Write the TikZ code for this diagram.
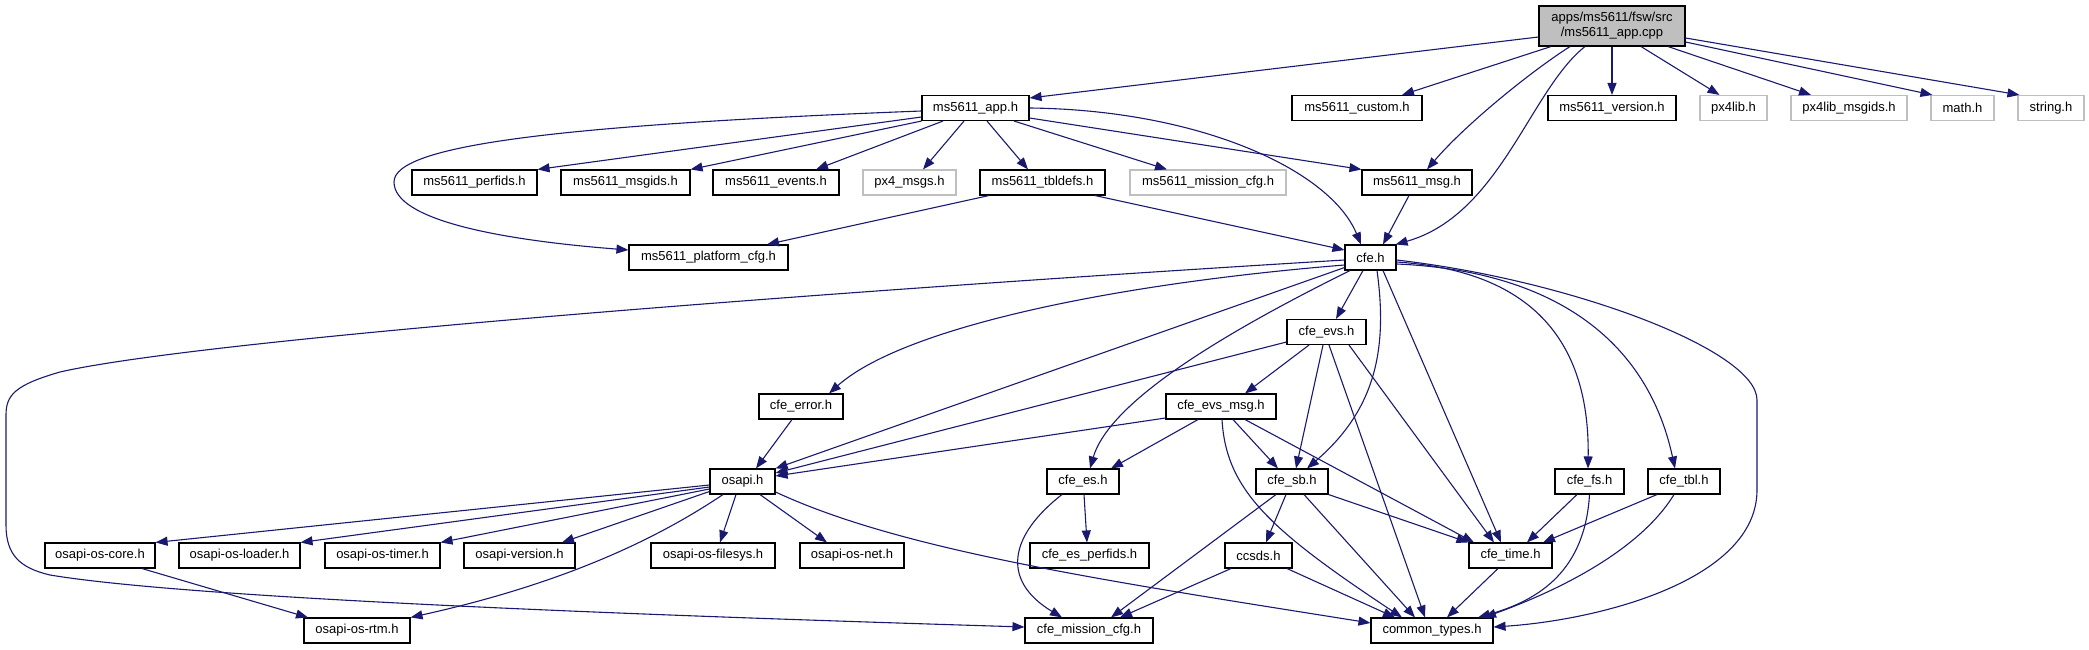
\documentclass[tikz,border=0pt]{standalone}
\usepackage{fontspec}
\setmainfont{Liberation Sans}
\usetikzlibrary{arrows.meta,calc}
\definecolor{edgec}{RGB}{25,25,112}
\definecolor{gbord}{RGB}{191,191,191}
\definecolor{gfill}{RGB}{191,191,191}
\begin{document}
\begin{tikzpicture}[x=1pt,y=1pt,
  box/.style={draw=black,fill=white,line width=1.1pt,minimum height=25pt,inner sep=0pt,font=\fontsize{13}{15}\selectfont},
  gbox/.style={box,draw=gbord},
  w/.style={minimum width=#1pt},
  edge/.style={draw=edgec,line width=1.1pt,-{Triangle[length=12pt,width=9pt]}}]
\useasboundingbox (0,0) rectangle (2089,649);
% rank 0
\node[box,fill=gfill,w=146,minimum height=40pt,align=center] (cpp) at (1612,623) {apps/ms5611/fsw/src\\/ms5611\_app.cpp};
% rank 1
\node[box,w=107] (app) at (975.5,541) {ms5611\_app.h};
\node[box,w=130] (custom) at (1357,541) {ms5611\_custom.h};
\node[box,w=128] (version) at (1612,541) {ms5611\_version.h};
\node[gbox,w=67] (px4lib) at (1733.5,541) {px4lib.h};
\node[gbox,w=116] (pxmsgids) at (1849,541) {px4lib\_msgids.h};
\node[gbox,w=63] (math) at (1962.5,541) {math.h};
\node[gbox,w=66] (string) at (2051,541) {string.h};
% rank 2
\node[box,w=125] (perfids) at (474.5,466.5) {ms5611\_perfids.h};
\node[box,w=129] (msgids) at (625.5,466.5) {ms5611\_msgids.h};
\node[box,w=126] (events) at (776,466.5) {ms5611\_events.h};
\node[gbox,w=93] (px4msgs) at (909.5,466.5) {px4\_msgs.h};
\node[box,w=125] (tbldefs) at (1042.5,466.5) {ms5611\_tbldefs.h};
\node[gbox,w=156] (mmission) at (1208,466.5) {ms5611\_mission\_cfg.h};
\node[box,w=110] (msg) at (1417,466.5) {ms5611\_msg.h};
% rank 3
\node[box,w=159] (platform) at (708.5,391.5) {ms5611\_platform\_cfg.h};
\node[box,w=51] (cfe) at (1370.5,391.5) {cfe.h};
% rank 4
\node[box,w=79] (evs) at (1326.5,317) {cfe\_evs.h};
% rank 5
\node[box,w=84] (error) at (801,242.5) {cfe\_error.h};
\node[box,w=110] (evsmsg) at (1221,242.5) {cfe\_evs\_msg.h};
% rank 6
\node[box,w=65] (osapi) at (742.5,167.5) {osapi.h};
\node[box,w=72] (es) at (1083,167.5) {cfe\_es.h};
\node[box,w=72] (sb) at (1292,167.5) {cfe\_sb.h};
\node[box,w=69] (fs) at (1589.5,167.5) {cfe\_fs.h};
\node[box,w=72] (tbl) at (1684,167.5) {cfe\_tbl.h};
% rank 7
\node[box,w=110] (core) at (100,93.5) {osapi-os-core.h};
\node[box,w=121] (loader) at (239.5,93.5) {osapi-os-loader.h};
\node[box,w=115] (timer) at (382.5,93.5) {osapi-os-timer.h};
\node[box,w=111] (oversion) at (519.5,93.5) {osapi-version.h};
\node[box,w=124] (filesys) at (713,93.5) {osapi-os-filesys.h};
\node[box,w=104] (net) at (852,93.5) {osapi-os-net.h};
\node[box,w=119] (esperf) at (1089.5,93.5) {cfe\_es\_perfids.h};
\node[box,w=67] (ccsds) at (1258.5,93.5) {ccsds.h};
\node[box,w=83] (time) at (1510.5,93.5) {cfe\_time.h};
% rank 8
\node[box,w=106] (rtm) at (357,18.5) {osapi-os-rtm.h};
\node[box,w=128] (mcfg) at (1089,18.5) {cfe\_mission\_cfg.h};
\node[box,w=122] (ctypes) at (1432,18.5) {common\_types.h};

% edges from cpp
\draw[edge] ([yshift=-11pt]cpp.west) -- ([yshift=10pt]app.east);
\draw[edge] ([xshift=-61pt]cpp.south) -- ([xshift=45pt]custom.north);
\draw[edge] (cpp.south) -- (version.north);
\draw[edge] ([xshift=29pt]cpp.south) -- ([xshift=-14pt]px4lib.north);
\draw[edge] ([xshift=56pt]cpp.south) -- ([xshift=-38pt]pxmsgids.north);
\draw[edge] ([yshift=-16pt]cpp.east) -- ([xshift=2pt]math.north west);
\draw[edge] ([yshift=-12pt]cpp.east) -- ([xshift=2pt]string.north west);
\draw[edge] ([xshift=-42pt]cpp.south) .. controls (1530,577) and (1465,524) .. ([xshift=10pt]msg.north);
\draw[edge] ([xshift=-27pt]cpp.south) .. controls (1530,559) and (1500,434) .. ([xshift=-1pt]cfe.north east);
% edges from app
\draw[edge] ([yshift=-3pt]app.west) .. controls (560,524) and (394,504) .. (394,467) .. controls (394,429) and (500,409) .. ([yshift=7.5pt]platform.west);
\draw[edge] ([yshift=-9pt]app.west) -- (perfids.north east);
\draw[edge] (app.south west) -- (msgids.north east);
\draw[edge] ([xshift=-32.5pt]app.south) -- ([xshift=40pt]events.north);
\draw[edge] ([xshift=-11.5pt]app.south) -- ([xshift=13.5pt]px4msgs.north);
\draw[edge] ([xshift=11.5pt]app.south) -- ([xshift=-14.5pt]tbldefs.north);
\draw[edge] ([xshift=38.5pt]app.south) -- ([xshift=-41pt]mmission.north);
\draw[edge] ([yshift=-10pt]app.east) -- (msg.north west);
\draw[edge] (app.east) .. controls (1200,539) and (1330,479) .. ([xshift=-9.5pt]cfe.north);
% tbldefs, msg
\draw[edge] ([xshift=-53.5pt]tbldefs.south) -- ([xshift=58.5pt]platform.north);
\draw[edge] ([xshift=52.5pt]tbldefs.south) -- ([yshift=7.5pt]cfe.west);
\draw[edge] ([xshift=-8pt]msg.south) -- ([xshift=12.5pt]cfe.north);
% edges from cfe
\draw[edge] ([yshift=-2.5pt]cfe.west) .. controls (800,356) and (200,309) .. (60,277) .. controls (15,264) and (6,254) .. (6,234) -- (6,124) .. controls (6,94) and (20,81) .. (50,74) .. controls (200,49) and (700,32) .. ([yshift=3.5pt]mcfg.west);
\draw[edge] ([yshift=-7.5pt]cfe.west) .. controls (1100,364) and (900,319) .. ([xshift=28pt]error.north);
\draw[edge] ([yshift=3pt]cfe.south west) -- (osapi.north east);
\draw[edge] ([xshift=-7.5pt]cfe.south) -- ([xshift=9.5pt]evs.north);
\draw[edge] ([xshift=-20.5pt]cfe.south) .. controls (1230,319) and (1110,249) .. ([xshift=7pt]es.north);
\draw[edge] ([xshift=6.5pt]cfe.south) .. controls (1388,299) and (1375,239) .. ([xshift=15pt]sb.north);
\draw[edge] ([xshift=12.5pt]cfe.south) -- ([xshift=-9.5pt]time.north);
\draw[edge] ([yshift=-4.5pt]cfe.east) .. controls (1520,379) and (1590,319) .. ([xshift=-1.5pt]fs.north);
\draw[edge] ([yshift=-6.5pt]cfe.east) .. controls (1540,379) and (1645,319) .. ([xshift=-9pt]tbl.north);
\draw[edge] ([yshift=-2.5pt]cfe.east) .. controls (1570,369) and (1757,299) .. (1757,249) -- (1757,159) .. controls (1757,69) and (1600,29) .. ([yshift=3.5pt]ctypes.east);
% edges from cfe_evs
\draw[edge] ([yshift=-10pt]evs.west) -- ([yshift=8.5pt]osapi.east);
\draw[edge] ([xshift=-17.5pt]evs.south) -- ([xshift=24pt]evsmsg.north);
\draw[edge] ([xshift=-3.5pt]evs.south) -- ([xshift=4pt]sb.north);
\draw[edge] ([xshift=22.5pt]evs.south) -- ([xshift=-16.5pt]time.north);
\draw[edge] ([xshift=2.5pt]evs.south) -- ([xshift=-7pt]ctypes.north);
% cfe_error
\draw[edge] ([xshift=-9pt]error.south) -- ([xshift=13.5pt]osapi.north);
% cfe_evs_msg
\draw[edge] ([yshift=-11.5pt]evsmsg.west) -- ([yshift=5.5pt]osapi.east);
\draw[edge] ([xshift=-23pt]evsmsg.south) -- ([xshift=28pt]es.north);
\draw[edge] ([xshift=12pt]evsmsg.south) -- ([xshift=-14pt]sb.north);
\draw[edge] ([xshift=24pt]evsmsg.south) -- ([xshift=-36.5pt]time.north);
\draw[edge] ([xshift=1pt]evsmsg.south) .. controls (1226,159) and (1270,119) .. ([xshift=-30pt]ctypes.north);
% osapi
\draw[edge] ([yshift=-3.5pt]osapi.west) -- (core.north east);
\draw[edge] ([yshift=-5.5pt]osapi.west) -- (loader.north east);
\draw[edge] ([yshift=-7.5pt]osapi.west) -- (timer.north east);
\draw[edge] ([yshift=-10pt]osapi.west) -- ([xshift=42.5pt]oversion.north);
\draw[edge] ([xshift=-6.5pt]osapi.south) -- ([xshift=7pt]filesys.north);
\draw[edge] ([xshift=17.5pt]osapi.south) -- ([xshift=-25pt]net.north);
\draw[edge] ([xshift=-19.5pt]osapi.south) .. controls (670,119) and (580,69) .. (rtm.north east);
\draw[edge] ([yshift=-10.5pt]osapi.east) .. controls (900,99) and (1100,69) .. ([yshift=7.5pt]ctypes.west);
\draw[edge] ([xshift=42pt]core.south) -- ([xshift=-49pt]rtm.north);
% cfe_es
\draw[edge] ([xshift=1pt]es.south) -- ([xshift=-2.5pt]esperf.north);
\draw[edge] ([xshift=-21pt]es.south) .. controls (1010,114) and (1000,69) .. ([xshift=-27pt]mcfg.north);
% cfe_sb
\draw[edge] ([xshift=-6pt]sb.south) -- ([xshift=7.5pt]ccsds.north);
\draw[edge] ([xshift=-16pt]sb.south) -- ([xshift=22pt]mcfg.north);
\draw[edge] (sb.south east) -- (time.north west);
\draw[edge] ([xshift=12pt]sb.south) -- ([xshift=-17pt]ctypes.north);
% ccsds
\draw[edge] ([xshift=-27.5pt]ccsds.south) -- ([xshift=31pt]mcfg.north);
\draw[edge] ([xshift=28.5pt]ccsds.south) -- ([xshift=-37pt]ctypes.north);
% cfe_fs, cfe_tbl, cfe_time
\draw[edge] ([xshift=-12.5pt]fs.south) -- ([xshift=16.5pt]time.north);
\draw[edge] (fs.south) .. controls (1585,79) and (1540,49) .. ([xshift=46pt]ctypes.north);
\draw[edge] ([xshift=-27pt]tbl.south) -- ([xshift=32.5pt]time.north);
\draw[edge] ([xshift=-10pt]tbl.south) .. controls (1640,99) and (1560,59) .. ([xshift=52pt]ctypes.north);
\draw[edge] ([xshift=-12.5pt]time.south) -- ([xshift=15pt]ctypes.north);
\end{tikzpicture}
\end{document}
